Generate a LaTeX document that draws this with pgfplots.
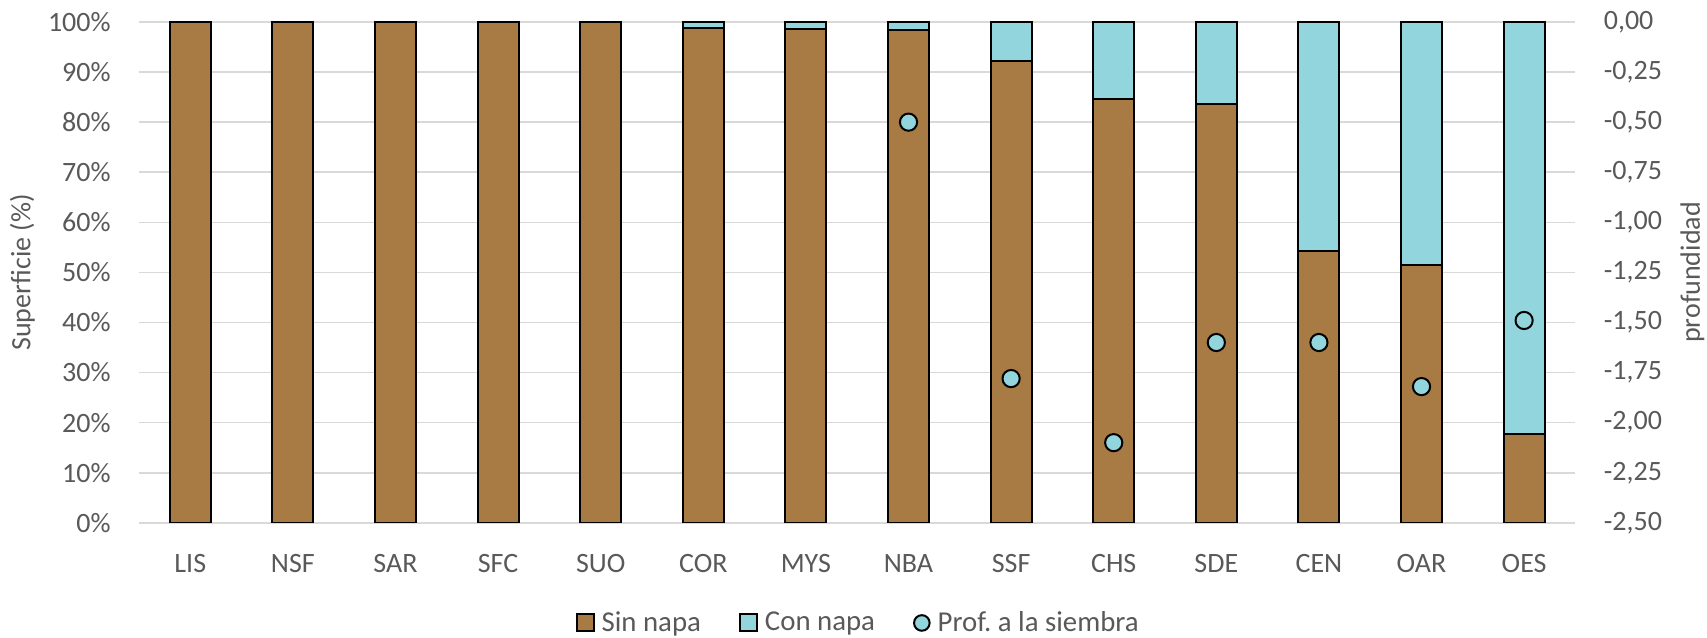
\documentclass[border=0pt]{standalone}
\usepackage{fontspec}
\setmainfont{Carlito}
\usepackage{pgfplots}
\pgfplotsset{compat=1.18}
\definecolor{brownc}{HTML}{A87A44}
\definecolor{cyanc}{HTML}{92D5DD}
\definecolor{gridc}{HTML}{D9D9D9}
\definecolor{txt}{HTML}{595959}
\begin{document}
\begin{tikzpicture}
\pgfplotsset{
 common/.style={
  width=718.2pt, height=250.4pt, scale only axis,
  at={(0,0)}, anchor=south west,
  xmin=-0.5, xmax=13.5,
  tick label style={font=\fontsize{14}{16.8}\selectfont, text=txt},
  label style={font=\fontsize{14}{16.8}\selectfont, text=txt},
  major tick length=0pt,
  /pgf/number format/assume math mode=true,
 },
 sqlegend/.style={legend image code/.code={\draw[##1] (0pt,-4.25pt) rectangle (8.5pt,4.25pt);}},
 circlegend/.style={legend image code/.code={\draw[fill=cyanc, draw=black, line width=1pt] (4.25pt,0pt) circle (3.9pt);}},
}
\begin{axis}[common,
  ybar stacked, bar width=0.4,
  ymin=0, ymax=100, ytick={0,10,20,30,40,50,60,70,80,90,100},
  yticklabel={\pgfmathprintnumber{\tick}\%},
  xtick={0,1,2,3,4,5,6,7,8,9,10,11,12,13},
  xticklabels={LIS,NSF,SAR,SFC,SUO,COR,MYS,NBA,SSF,CHS,SDE,CEN,OAR,OES},
  axis line style={draw=none},
  ymajorgrids, grid style={gridc, line width=0.8pt},
  yticklabel style={anchor=east, inner sep=0pt, xshift=-14pt},
  xticklabel style={anchor=base, inner sep=0pt, yshift=-25pt},
  ylabel={Superficie (\%)},
  ylabel style={at={(axis description cs:-0.0812,0.5)}, anchor=center},
  legend style={at={(axis description cs:0.5,-0.2)}, anchor=center, draw=none,
    font=\fontsize{14.4}{17}\selectfont, text=txt, nodes={inner sep=0pt},
    /tikz/every even column/.append style={column sep=19pt},
    /tikz/every odd column/.append style={column sep=3.5pt}},
  legend columns=3,
]
\addplot[fill=brownc, draw=black, line width=1pt, sqlegend] coordinates {
(0,100) (1,100) (2,100) (3,100) (4,100) (5,98.9) (6,98.6) (7,98.5) (8,92.3) (9,84.7) (10,83.6) (11,54.2) (12,51.4) (13,17.8)};
\addlegendentry{Sin napa}
\addplot[fill=cyanc, draw=black, line width=1pt, sqlegend] coordinates {
(0,0) (1,0) (2,0) (3,0) (4,0) (5,1.1) (6,1.4) (7,1.5) (8,7.7) (9,15.3) (10,16.4) (11,45.8) (12,48.6) (13,82.2)};
\addlegendentry{Con napa}
\addlegendimage{circlegend}
\addlegendentry{Prof.\ a la siembra}
\end{axis}
\begin{axis}[common,
  ymin=-2.5, ymax=0,
  ytick={-2.5,-2.25,-2,-1.75,-1.5,-1.25,-1,-0.75,-0.5,-0.25,0},
  axis x line=none, axis y line*=right, y axis line style={draw=none},
  yticklabel style={anchor=west, inner sep=0pt, xshift=14pt,
    /pgf/number format/fixed, /pgf/number format/fixed zerofill,
    /pgf/number format/precision=2, /pgf/number format/use comma},
  ylabel={profundidad},
  ylabel style={at={(axis description cs:1.0815,0.5)}, anchor=center},
]
\addplot[only marks, mark=*, mark size=4.3pt, mark options={fill=cyanc, draw=black, line width=1pt}] coordinates {
(7,-0.50) (8,-1.78) (9,-2.10) (10,-1.60) (11,-1.60) (12,-1.82) (13,-1.49)};
\end{axis}
\pgfresetboundingbox
\path (-69.5pt,-57.1pt) rectangle (784pt,261.4pt);
\end{tikzpicture}
\end{document}
